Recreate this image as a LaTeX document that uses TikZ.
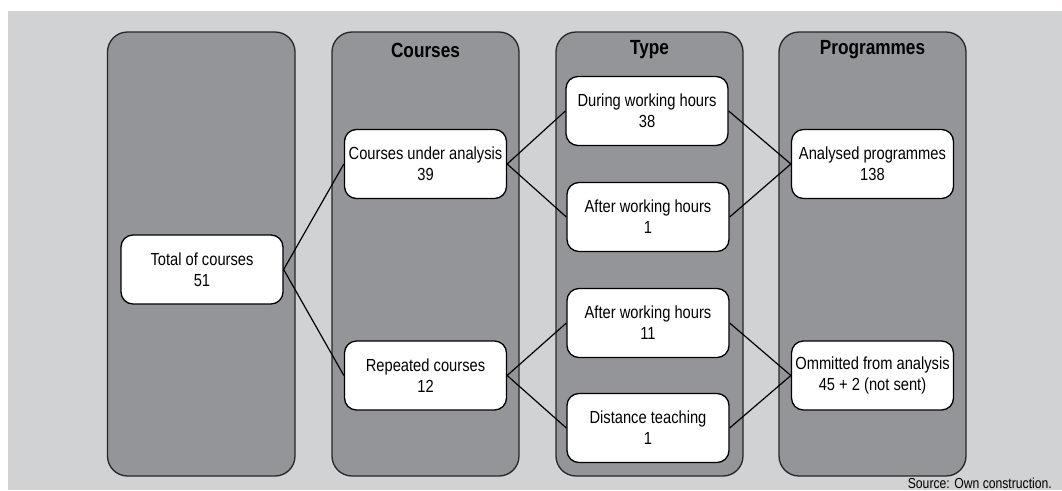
\documentclass[tikz,border=0pt]{standalone}
\usepackage{fontspec}
\setmainfont{Liberation Sans}[FakeStretch=0.84]
\definecolor{bgc}{HTML}{D1D2D4}
\definecolor{panelc}{HTML}{939598}
\begin{document}
\begin{tikzpicture}[x=1pt,y=-1pt,
  panelbox/.style={draw=black!85, fill=panelc, rounded corners=20pt, line width=1.3pt},
  item/.style={draw=black, fill=white, rounded corners=12pt, line width=1.3pt,
    minimum width=162pt, minimum height=69pt, align=center, inner sep=0pt,
    font=\fontsize{17.5}{21}\selectfont},
  head/.style={font=\bfseries\fontsize{20.5}{24}\selectfont},
  link/.style={line width=1.2pt}]
\useasboundingbox (0,0) rectangle (1062,490);
\fill[bgc] (8,11) rectangle (1062,490);
% panels
\draw[panelbox] (107.5,32) rectangle (295,476);
\draw[panelbox] (332,32) rectangle (519,476);
\draw[panelbox] (556,32) rectangle (743,476);
\draw[panelbox] (779,32) rectangle (966,476);
% headings
\node[head] (hcourses) at (425.5,50) {Courses};
\node[head] (htype) at (649.5,50) {Type};
\node[head] (hprog) at (872.5,50) {Programmes};
% items
\node[item] (total) at (202,269.5) {Total of courses\\51};
\node[item] (cua) at (425.5,164) {Courses under analysis\\39};
\node[item] (rep) at (425.5,375.5) {Repeated courses\\12};
\node[item] (dur) at (647,111) {During working hours\\38};
\node[item] (aft1) at (648,217) {After working hours\\1};
\node[item] (aft11) at (648,323) {After working hours\\11};
\node[item] (dist) at (648,428) {Distance teaching\\1};
\node[item] (ana) at (872.5,164) {Analysed programmes\\138};
\node[item] (omm) at (872.5,375.5) {Ommitted from analysis\\45 + 2 (not sent)};
% links
\draw[link] (total.east) -- (cua.west);
\draw[link] (total.east) -- (rep.west);
\draw[link] (cua.east) -- (dur.west);
\draw[link] (cua.east) -- (aft1.west);
\draw[link] (rep.east) -- (aft11.west);
\draw[link] (rep.east) -- (dist.west);
\draw[link] (dur.east) -- (ana.west);
\draw[link] (aft1.east) -- (ana.west);
\draw[link] (aft11.east) -- (omm.west);
\draw[link] (dist.east) -- (omm.west);
% source
\node[anchor=base east, font=\fontsize{14.5}{17}\selectfont, inner sep=0pt] (src) at (1052,488) {Source: Own construction.};
\end{tikzpicture}
\end{document}
